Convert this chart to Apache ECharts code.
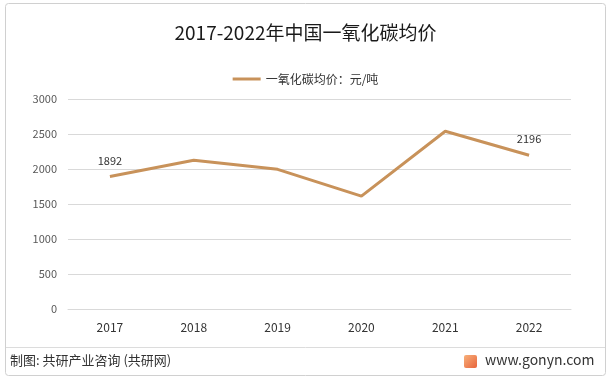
<!DOCTYPE html>
<html><head><meta charset="utf-8">
<script src="https://cdn.jsdelivr.net/npm/echarts@6/dist/echarts.min.js"></script>
<style>html,body{margin:0;padding:0;background:#fff}#c{width:611px;height:387px}</style>
</head><body><div id="c"></div>
<script>
const categories = ['2017','2018','2019','2020','2021','2022'];
const prices = [1892, 2125, 1995, 1612, 2540, 2196];
const yTicks = [0, 500, 1000, 1500, 2000, 2500, 3000];
const seriesName = '一氧化碳均价：元/吨';
const titleText = '2017-2022年中国一氧化碳均价';
const footerLeft = '制图: 共研产业咨询 (共研网)';
const footerRight = 'www.gonyn.com';

const chart = echarts.init(document.getElementById('c'));
const font = '"Noto Sans CJK SC", "Noto Sans", sans-serif';
const lineColor = '#C8925A';
chart.setOption({
  animation: false,
  backgroundColor: '#fff',
  title: { text: titleText, left: 'center', top: 18,
    textStyle: { fontSize: 19, fontWeight: 'normal', color: '#1a1a1a', fontFamily: font } },
  legend: { top: 68, left: 'center', itemWidth: 28, itemHeight: 3, icon: 'rect',
    itemStyle: { color: lineColor, opacity: 1 },
    textStyle: { fontSize: 12, color: '#333', fontFamily: font }, itemGap: 0,
    data: [seriesName] },
  grid: { left: 68, right: 40, top: 99, bottom: 78 },
  xAxis: { type: 'category', data: categories, boundaryGap: true,
    axisLine: { show: true, lineStyle: { color: '#d9d9d9' } }, axisTick: { show: false },
    axisLabel: { fontSize: 12, color: '#333', margin: 12, fontFamily: font } },
  yAxis: { type: 'value', min: yTicks[0], max: yTicks[yTicks.length-1], interval: 500,
    axisLine: { show: false }, axisTick: { show: false },
    splitLine: { lineStyle: { color: '#d9d9d9' } },
    axisLabel: { fontSize: 11, color: '#595959', margin: 11, fontFamily: font,
      formatter: v => String(v) } },
  series: [{
    name: seriesName, type: 'line',
    data: prices.map((v,i)=>({ value: v, label: { show: i===0 || i===prices.length-1 } })),
    symbol: 'circle', symbolSize: 1, showSymbol: true,
    lineStyle: { width: 3, color: lineColor }, itemStyle: { color: lineColor, opacity: 0 },
    label: { show: false, position: 'top', distance: 10, fontSize: 11, color: '#333', fontFamily: font, opacity: 1 }
  }],
  graphic: [
    { type: 'rect', shape: { x: 5.5, y: 3.5, width: 600, height: 372, r: 3 },
      style: { fill: 'none', stroke: '#d0d0d0', lineWidth: 1 }, z: 100 },
    { type: 'line', shape: { x1: 6, y1: 347.5, x2: 605, y2: 347.5 },
      style: { stroke: '#dcdcdc', lineWidth: 1 }, z: 100 },
    { type: 'text', left: 10, top: 354, style: { text: footerLeft, fontSize: 13, fill: '#333', fontFamily: font }, z: 100 },
    { type: 'rect', shape: { x: 464, y: 355, width: 13, height: 13, r: 2 },
      style: { fill: new echarts.graphic.LinearGradient(0,0,1,1,[{offset:0,color:'#f7b07a'},{offset:1,color:'#e8643c'}]) }, z: 100 },
    { type: 'text', left: 485, top: 353, style: { text: footerRight, fontSize: 14, fill: '#333', fontFamily: font }, z: 100 }
  ]
});
</script></body></html>
